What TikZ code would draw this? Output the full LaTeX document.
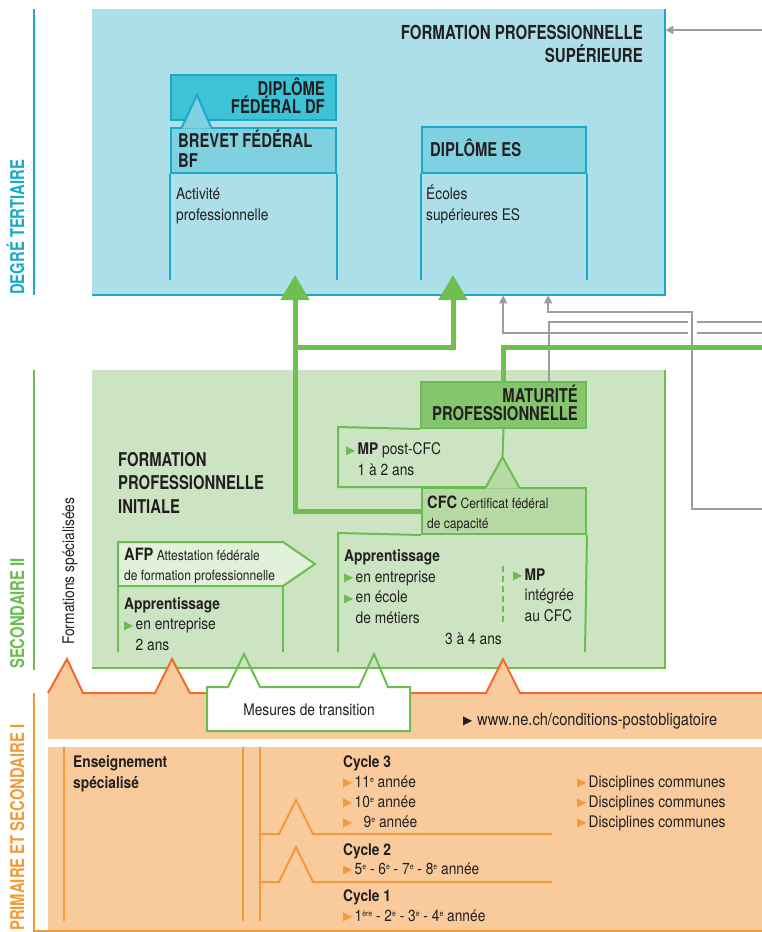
\documentclass[tikz,border=0pt]{standalone}
\usepackage{fontspec}
\setmainfont{TeX Gyre Heros}[FakeStretch=0.86]
\newfontfamily\narrowbold{TeX Gyre Heros}[FakeStretch=0.78]
\newfontfamily\symb{DejaVu Sans}
\usetikzlibrary{arrows.meta}

\definecolor{ink}{HTML}{231F20}
\definecolor{tcyan}{HTML}{19A9C9}
\definecolor{skyfill}{HTML}{ADDFE9}
\definecolor{dfcyan}{HTML}{3EC3D6}
\definecolor{hdcyan}{HTML}{80D1E0}
\definecolor{leafgreen}{HTML}{6ABD4F}
\definecolor{pipegreen}{HTML}{6EBF50}
\definecolor{gbg}{HTML}{CDE4C2}
\definecolor{mpgreen}{HTML}{85C56E}
\definecolor{cfcgreen}{HTML}{B7DAA4}
\definecolor{afpfill}{HTML}{E2F1DA}
\definecolor{tangerine}{HTML}{F39A38}
\definecolor{peach}{HTML}{F9CB9C}
\definecolor{rust}{HTML}{EE6C2B}
\definecolor{ash}{HTML}{9D9D9F}

\newcommand{\gtri}{\makebox[11.5pt][l]{\raisebox{0.3pt}{\symb\fontsize{12}{12}\selectfont\textcolor{leafgreen}{▶}}}}
\newcommand{\otri}{\makebox[11.5pt][l]{\raisebox{0.3pt}{\symb\fontsize{12}{12}\selectfont\textcolor{tangerine}{▶}}}}
\newcommand{\ktri}{\makebox[14pt][l]{\raisebox{0.3pt}{\symb\fontsize{12}{12}\selectfont\textcolor{ink}{▶}}}}
\newcommand{\ord}[1]{\raisebox{5pt}{\fontsize{8}{8}\selectfont #1}}

\begin{document}
\begin{tikzpicture}[x=1pt, y=-1pt,
		every node/.style={inner sep=0pt, text=ink},
		head/.style={font=\narrowbold\bfseries\fontsize{19}{18}\selectfont, align=left},
		body/.style={font=\fontsize{16}{20.5}\selectfont, align=left},
		small/.style={font=\fontsize{14}{20}\selectfont, align=left},
		side/.style={font=\narrowbold\bfseries\fontsize{19}{19}\selectfont, rotate=90, anchor=base west},
		cyanedge/.style={draw=tcyan, line width=2pt},
		greenedge/.style={draw=leafgreen, line width=2pt},
		pipe/.style={draw=pipegreen, line width=5pt},
		pipearrow/.style={pipe, -{Triangle[width=28pt,length=25pt]}},
		grayline/.style={draw=ash, line width=2pt},
		grayarrow/.style={grayline, -{Triangle[width=8pt,length=8pt]}}]
		\useasboundingbox (0,0) rectangle (762,932);
		
		% Side bars and labels
		\draw[tcyan, line width=2.5pt] (34,9) -- (34,295);
		\draw[leafgreen, line width=2.5pt] (34,370) -- (34,670);
		\draw[tangerine, line width=2.5pt] (34,693) -- (34,931) -- (762,931);
		\node[side, text=tcyan] (tT) at (24,295) {DEGRÉ TERTIAIRE};
		\node[side, text=leafgreen] (tS) at (24,669) {SECONDAIRE II};
		\node[side, text=tangerine] (tP) at (24,931) {PRIMAIRE ET SECONDAIRE I};
		\node[rotate=90, anchor=base west, font=\fontsize{16}{16}\selectfont] (tF) at (74,645) {Formations spécialisées};
		
		% Tertiary level (multi-line nodes sit on their last baseline)
		\node[anchor=north west, fill=skyfill, minimum width=573, minimum height=286] (FPS) at (92,9) {};
		\draw[cyanedge] (FPS.north east) -- (FPS.south east) -- (FPS.south west);
		\node[head, font=\narrowbold\bfseries\fontsize{19.3}{23}\selectfont, align=right, anchor=base east] (hFPS) at (643,62) {FORMATION PROFESSIONNELLE\\SUPÉRIEURE};
		
		\node[anchor=north west, fill=dfcyan, cyanedge, minimum width=165, minimum height=45] (DF) at (170,74) {};
		\node[anchor=north west, fill=hdcyan, cyanedge, minimum width=165, minimum height=45] (BF) at (170,127) {};
		\fill[hdcyan] (182,128.5) -- (197,95) -- (211,128.5) -- cycle;
		\draw[cyanedge] (182,127) -- (197,95) -- (211,127);
		\draw[cyanedge] (BF.south west) -- ++(0,106);
		\draw[cyanedge] (BF.south east) -- ++(0,106);
		\node[head, align=right, anchor=base east] (lDF) at (325,113) {DIPLÔME\\FÉDÉRAL DF};
		\node[head, font=\narrowbold\bfseries\fontsize{19}{20}\selectfont, anchor=base west] (lBF) at (178,167) {BREVET FÉDÉRAL\\BF};
		\node[body, anchor=base west] (bBF) at (176,220) {Activité\\professionnelle};
		
		\node[anchor=north west, fill=hdcyan, cyanedge, minimum width=164, minimum height=46] (ES) at (421,126) {};
		\draw[cyanedge] (ES.south west) -- ++(0,106);
		\draw[cyanedge] (ES.south east) -- ++(0,106);
		\node[head, anchor=base west] (lES) at (430,156) {DIPLÔME ES};
		\node[body, anchor=base west] (bES) at (426,220) {Écoles\\supérieures ES};
		
		% Secondary II
		\node[anchor=north west, fill=gbg, minimum width=573, minimum height=298] (FPI) at (92,370) {};
		\draw[greenedge] (FPI.north east) -- (FPI.south east) -- (FPI.south west);
		\node[head, font=\narrowbold\bfseries\fontsize{19}{23.5}\selectfont, anchor=base west] (hFPI) at (118,513) {FORMATION\\PROFESSIONNELLE\\INITIALE};
		
		\node[anchor=north west, fill=mpgreen, greenedge, minimum width=165, minimum height=46] (MPM) at (420,381) {};
		\node[head, align=right, anchor=base east] (lMPM) at (578,420) {MATURITÉ\\PROFESSIONNELLE};
		\draw[greenedge] (MPM.south west) -- (338,427) -- (338,487) -- (486,487);
		\draw[greenedge] (MPM.south) -- (502.5,457);
		\node[body, anchor=base west] (lMPC) at (346,475) {\gtri\textbf{MP} post-CFC\\\hspace*{11.5pt}1 à 2 ans};
		
		\node[anchor=north west, fill=cfcgreen, greenedge, minimum width=164, minimum height=46] (CFC) at (421,487) {};
		\fill[cfcgreen] (486,488.5) -- (502.5,457) -- (519,488.5) -- cycle;
		\draw[greenedge] (486,487) -- (502.5,457) -- (519,487);
		\node[small, anchor=base west] (lCFC) at (427,528) {{\bfseries\fontsize{17}{20}\selectfont CFC} Certificat fédéral\\de capacité};
		\draw[greenedge] (338,652) -- (338,533) -- (CFC.south west);
		\draw[greenedge] (CFC.south east) -- (585,652);
		\node[body, anchor=base west] (lApp) at (344,623) {\textbf{Apprentissage}\\\gtri en entreprise\\\gtri en école\\\hspace*{11.5pt}de métiers};
		\node[body, anchor=base west] (lDur) at (445,644) {3 à 4 ans};
		\draw[leafgreen, line width=1.5pt, dash pattern=on 6pt off 4pt] (503,566) -- (503,623);
		\node[body, anchor=base west] (lMPi) at (513,621) {\gtri\textbf{MP}\\\hspace*{11.5pt}intégrée\\\hspace*{11.5pt}au CFC};
		
		\filldraw[fill=afpfill, greenedge] (118,542) -- (283,542) -- (315,564) -- (283,586) -- (118,586) -- cycle;
		\draw[greenedge] (118,586) -- (118,652);
		\draw[greenedge] (283,586) -- (283,652);
		\node[small, anchor=base west] (lAFP) at (124,580) {{\bfseries\fontsize{17}{20}\selectfont AFP} Attestation fédérale\\de formation professionnelle};
		\node[body, anchor=base west] (lAppA) at (124,650) {\textbf{Apprentissage}\\\gtri en entreprise\\\hspace*{11.5pt}2 ans};
		
		% Connections
		\coordinate (up1) at (295,275);
		\coordinate (up2) at (453,275);
		\coordinate (fork) at (295,347);
		\coordinate (outT) at (762,30);
		\coordinate (outA) at (762,333);
		\coordinate (outB) at (762,322);
		\coordinate (outC) at (762,509);
		\coordinate (outG) at (762,347);
		\draw[grayarrow] (outT) -- (FPS.north east |- outT);
		\draw[grayarrow] (outA) -| ([xshift=124.5pt]FPS.south);
		\draw[grayline] ([xshift=45.5pt]MPM.north) |- (outB);
		\draw[white, line width=9pt] (692,316) -- (692,339);
		\draw[grayarrow] (outC) -| (692,312) -| ([xshift=169.5pt]FPS.south);
		\draw[pipearrow] (CFC.west) -| (up1);
		\draw[pipearrow] (fork) -| (up2);
		\draw[pipe] (MPM.north) |- (outG);
		
		% Primary and secondary I
		\fill[peach] (48,739) -- (48,693) -- (67,659) -- (83,693) -- (155,693) -- (172,659) -- (190,693) -- (486,693) -- (503,659) -- (520,693) -- (762,693) -- (762,739) -- cycle;
		\draw[rust, line width=2pt] (48,693) -- (67,659) -- (83,693) -- (155,693) -- (172,659) -- (190,693) -- (486,693) -- (503,659) -- (520,693) -- (762,693);
		\fill[white] (207,687) rectangle (410,731);
		\draw[greenedge] (207,731) -- (207,687) -- (228,687) -- (244,654) -- (260,687) -- (359,687) -- (374,654) -- (388,687) -- (410,687) -- (410,731) -- cycle;
		\node[body, anchor=base] (lMT) at (309,715) {Mesures de transition};
		\node[body, font=\fontsize{17}{20}\selectfont, anchor=base west] (lWWW) at (463,725) {\ktri www.ne.ch/conditions-postobligatoire};
		
		\node[anchor=north west, fill=peach, minimum width=714, minimum height=183] (SCO) at (48,747) {};
		\draw[tangerine, line width=2pt] (64,747) -- (64,921);
		\draw[tangerine, line width=2pt] (243,747) -- (243,921);
		\draw[tangerine, line width=2pt] (260,747) -- (260,921);
		\draw[tangerine, line width=2pt] (260,834) -- (279,834) -- (296,800) -- (313,834) -- (552,834);
		\draw[tangerine, line width=2pt] (260,882) -- (279,882) -- (296,847) -- (313,882) -- (552,882);
		\node[body, anchor=base west] (lEns) at (73,788) {\textbf{Enseignement}\\\textbf{spécialisé}};
		\node[body, font=\fontsize{16}{20}\selectfont, anchor=base west] (lC3) at (343,827) {\textbf{Cycle 3}\\\otri 11\ord{e} année\\\otri 10\ord{e} année\\\otri\hspace*{9pt}9\ord{e} année};
		\node[body, font=\fontsize{16}{19}\selectfont, anchor=base west] (lC2) at (343,874) {\textbf{Cycle 2}\\\otri 5\ord{e} - 6\ord{e} - 7\ord{e} - 8\ord{e} année};
		\node[body, font=\fontsize{16}{20}\selectfont, anchor=base west] (lC1) at (343,921) {\textbf{Cycle 1}\\\otri 1\ord{ère} - 2\ord{e} - 3\ord{e} - 4\ord{e} année};
		\node[body, font=\fontsize{16}{20}\selectfont, anchor=base west] (lDC) at (577,827) {\otri Disciplines communes\\\otri Disciplines communes\\\otri Disciplines communes};
	\end{tikzpicture}
\end{document}
